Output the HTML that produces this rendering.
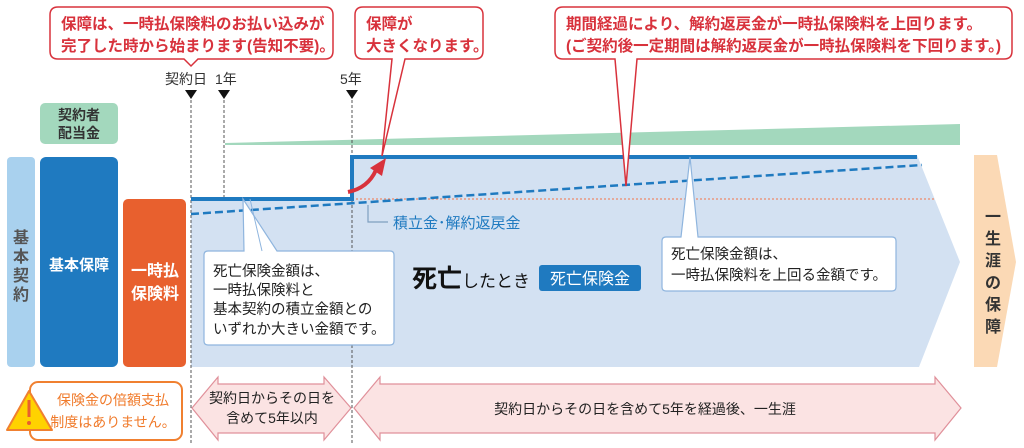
<!DOCTYPE html>
<html><head><meta charset="utf-8"><style>
html,body{margin:0;padding:0;background:#fff;}
svg{display:block;font-family:"Liberation Sans","Noto Sans CJK JP",sans-serif;}
</style></head><body>
<svg width="1024" height="448" viewBox="0 0 1024 448" xmlns="http://www.w3.org/2000/svg">
<polygon points="191,198 352,198 352,155 917,155 960,262 919,367 191,367" fill="#d3e1f2"/>
<polygon points="225,143 960,124 960,145 225,145" fill="#a3d8bd"/>
<g stroke="#555" stroke-width="1" stroke-dasharray="3,2">
<line x1="191" y1="100" x2="191" y2="444"/>
<line x1="224" y1="100" x2="224" y2="198"/>
<line x1="352" y1="100" x2="352" y2="444"/>
</g>
<line x1="352" y1="199" x2="935" y2="199" stroke="#ef8a6a" stroke-width="1.2" stroke-dasharray="2,2"/>
<line x1="191" y1="214" x2="922" y2="165" stroke="#1f7ac0" stroke-width="2.5" stroke-dasharray="8,4"/>
<polyline points="191,199 352,199 352,157 917,157" fill="none" stroke="#1f7ac0" stroke-width="4"/>
<path d="M348,192 Q368,188 376,170" fill="none" stroke="#d8323c" stroke-width="4"/>
<polygon points="370,168 386,158 382,176" fill="#d8323c"/>
<polyline points="368,205 368,222 388,222" fill="none" stroke="#7f9fc0" stroke-width="1.2"/>
<text x="393" y="228" font-size="15" fill="#1f7ac0">積立金･解約返戻金</text>
<g font-size="14" fill="#333">
<text x="165" y="84">契約日</text>
<text x="215" y="84">1年</text>
<text x="340" y="84">5年</text>
</g>
<g fill="#111">
<polygon points="185,90 197,90 191,99"/>
<polygon points="218,90 230,90 224,99"/>
<polygon points="346,90 358,90 352,99"/>
</g>
<g fill="#fff" stroke="#d8323c" stroke-width="1.5">
<path d="M58,7 H325 Q333,7 333,15 V51 Q333,59 325,59 H198 L191,66 L184,59 H58 Q50,59 50,51 V15 Q50,7 58,7 Z"/>
<path d="M363,7 H475 Q483,7 483,15 V51 Q483,59 475,59 H405 L382,156 L392,59 H363 Q355,59 355,51 V15 Q355,7 363,7 Z"/>
<path d="M563,7 H1004 Q1012,7 1012,15 V51 Q1012,59 1004,59 H637 L626,186 L615,59 H563 Q555,59 555,51 V15 Q555,7 563,7 Z"/>
</g>
<g font-size="15.5" font-weight="bold" fill="#d8323c">
<text x="61" y="29">保障は、一時払保険料のお払い込みが</text>
<text x="61" y="51">完了した時から始まります(告知不要)。</text>
<text x="366" y="29">保障が</text>
<text x="366" y="51">大きくなります。</text>
<text x="566" y="29">期間経過により、解約返戻金が一時払保険料を上回ります。</text>
<text x="566" y="51">(ご契約後一定期間は解約返戻金が一時払保険料を下回ります。)</text>
</g>
<rect x="40" y="103" width="78" height="41" rx="5" fill="#a3d8bd"/>
<text x="79" y="120" font-size="14" font-weight="bold" fill="#333" text-anchor="middle">契約者</text>
<text x="79" y="138" font-size="14" font-weight="bold" fill="#333" text-anchor="middle">配当金</text>
<rect x="7" y="157" width="28" height="210" rx="4" fill="#a9d1ee"/>
<g font-size="16" font-weight="bold" fill="#555" text-anchor="middle">
<text x="21" y="243">基</text><text x="21" y="262">本</text><text x="21" y="281">契</text><text x="21" y="300">約</text>
</g>
<rect x="40" y="157" width="78" height="210" rx="6" fill="#1f7ac0"/>
<text x="79" y="270" font-size="15" font-weight="bold" fill="#fff" text-anchor="middle">基本保障</text>
<rect x="123" y="199" width="63" height="168" rx="5" fill="#e8602e"/>
<text x="155" y="276" font-size="16" font-weight="bold" fill="#fff" text-anchor="middle">一時払</text>
<text x="155" y="299" font-size="16" font-weight="bold" fill="#fff" text-anchor="middle">保険料</text>
<path d="M208,251 H244 L243,199 L277,251 H390 Q394,251 394,255 V341 Q394,345 390,345 H208 Q204,345 204,341 V255 Q204,251 208,251 Z" fill="#fff" stroke="#8fb5de" stroke-width="1.2"/>
<line x1="250" y1="199" x2="262" y2="251" stroke="#8fb5de" stroke-width="1"/>
<g font-size="14.5" fill="#222">
<text x="213" y="276">死亡保険金額は、</text>
<text x="213" y="295">一時払保険料と</text>
<text x="213" y="314">基本契約の積立金額との</text>
<text x="213" y="334">いずれか大きい金額です。</text>
</g>
<text x="412" y="287" font-size="25" font-weight="bold" fill="#111">死亡<tspan font-size="17" font-weight="normal">したとき</tspan></text>
<rect x="539" y="265" width="102" height="26" rx="3" fill="#1f7ac0"/>
<text x="590" y="284" font-size="16" fill="#fff" text-anchor="middle">死亡保険金</text>
<path d="M666,237 H681 L690,157 L698,237 H892 Q896,237 896,241 V287 Q896,291 892,291 H666 Q662,291 662,287 V241 Q662,237 666,237 Z" fill="#fff" stroke="#8fb5de" stroke-width="1.2"/>
<g font-size="14.5" fill="#222">
<text x="671" y="259">死亡保険金額は、</text>
<text x="671" y="280">一時払保険料を上回る金額です。</text>
</g>
<polygon points="974,155 997,155 1016,262 997,367 974,367" fill="#fbd9b5"/>
<g font-size="16" font-weight="bold" fill="#333" text-anchor="middle">
<text x="993" y="222">一</text><text x="993" y="244">生</text><text x="993" y="266">涯</text><text x="993" y="288">の</text><text x="993" y="310">保</text><text x="993" y="332">障</text>
</g>
<rect x="30" y="382" width="152" height="58" rx="8" fill="#fff" stroke="#f08030" stroke-width="2"/>
<polygon points="29,391 52,430 7,430" fill="#ffd200" stroke="#f08030" stroke-width="2" stroke-linejoin="round"/>
<rect x="27.5" y="400" width="3" height="17" fill="#e8602e"/>
<circle cx="29" cy="423" r="2" fill="#e8602e"/>
<text x="113" y="405" font-size="14" fill="#f07a2a" text-anchor="middle">保険金の倍額支払</text>
<text x="113" y="427" font-size="14" fill="#f07a2a" text-anchor="middle">制度はありません。</text>
<g fill="#fbe3e3" stroke="#e0909a" stroke-width="1.2">
<polygon points="192,408 218,377 218,384 324,384 324,377 351,408 324,440 324,433 218,433 218,440"/>
<polygon points="354,408 380,377 380,384 935,384 935,377 961,408 935,440 935,433 380,433 380,440"/>
</g>
<g font-size="14" fill="#222" text-anchor="middle">
<text x="272" y="403">契約日からその日を</text>
<text x="272" y="423">含めて5年以内</text>
<text x="645" y="414">契約日からその日を含めて5年を経過後、一生涯</text>
</g>
</svg>
</body></html>
